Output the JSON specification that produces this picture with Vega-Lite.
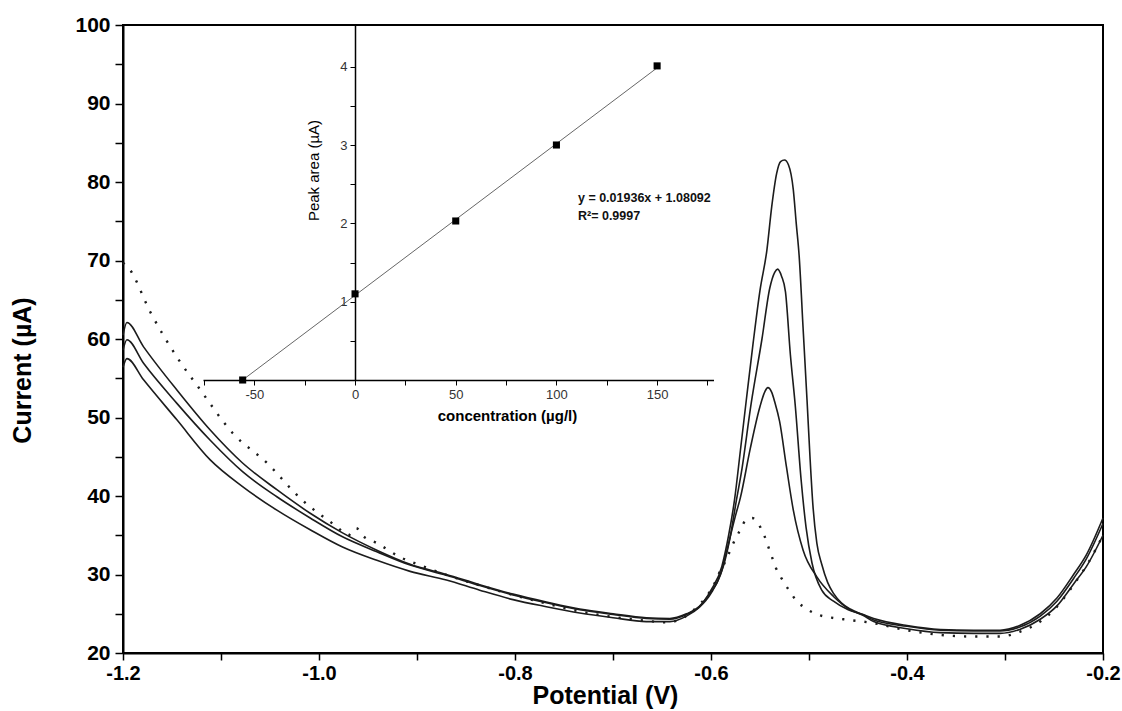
{
  "$schema": "https://vega.github.io/schema/vega-lite/v6.json",
  "width": 980,
  "height": 628,
  "autosize": {"type": "none"},
  "padding": {"left": 123, "top": 25, "right": 19, "bottom": 58},
  "background": "white",
  "config": {
    "font": "Liberation Sans",
    "view": {"stroke": "black", "strokeWidth": 2},
    "axis": {"grid": false, "domainColor": "black", "tickColor": "black", "labelColor": "black", "titleColor": "black", "labelFlush": false, "labelOverlap": false, "labelBound": false}
  },
  "datasets": {
    "curves": [
      {"series": "s1", "potential": -1.200, "current": 60.5},
      {"series": "s1", "potential": -1.196, "current": 62.1},
      {"series": "s1", "potential": -1.179, "current": 59.0},
      {"series": "s1", "potential": -1.145, "current": 53.5},
      {"series": "s1", "potential": -1.111, "current": 48.4},
      {"series": "s1", "potential": -1.078, "current": 44.2},
      {"series": "s1", "potential": -1.043, "current": 40.8},
      {"series": "s1", "potential": -1.009, "current": 37.8},
      {"series": "s1", "potential": -0.976, "current": 35.3},
      {"series": "s1", "potential": -0.941, "current": 33.1},
      {"series": "s1", "potential": -0.907, "current": 31.3},
      {"series": "s1", "potential": -0.870, "current": 30.0},
      {"series": "s1", "potential": -0.836, "current": 28.7},
      {"series": "s1", "potential": -0.802, "current": 27.5},
      {"series": "s1", "potential": -0.768, "current": 26.5},
      {"series": "s1", "potential": -0.734, "current": 25.6},
      {"series": "s1", "potential": -0.700, "current": 25.0},
      {"series": "s1", "potential": -0.666, "current": 24.5},
      {"series": "s1", "potential": -0.642, "current": 24.4},
      {"series": "s1", "potential": -0.625, "current": 25.0},
      {"series": "s1", "potential": -0.612, "current": 25.9},
      {"series": "s1", "potential": -0.600, "current": 28.0},
      {"series": "s1", "potential": -0.589, "current": 31.0},
      {"series": "s1", "potential": -0.582, "current": 35.0},
      {"series": "s1", "potential": -0.576, "current": 39.5},
      {"series": "s1", "potential": -0.570, "current": 45.8},
      {"series": "s1", "potential": -0.564, "current": 52.2},
      {"series": "s1", "potential": -0.557, "current": 59.5},
      {"series": "s1", "potential": -0.550, "current": 66.2},
      {"series": "s1", "potential": -0.543, "current": 71.3},
      {"series": "s1", "potential": -0.538, "current": 76.9},
      {"series": "s1", "potential": -0.533, "current": 81.1},
      {"series": "s1", "potential": -0.529, "current": 82.6},
      {"series": "s1", "potential": -0.525, "current": 82.8},
      {"series": "s1", "potential": -0.521, "current": 82.2},
      {"series": "s1", "potential": -0.516, "current": 79.0},
      {"series": "s1", "potential": -0.513, "current": 74.7},
      {"series": "s1", "potential": -0.510, "current": 70.5},
      {"series": "s1", "potential": -0.506, "current": 61.3},
      {"series": "s1", "potential": -0.502, "current": 52.2},
      {"series": "s1", "potential": -0.499, "current": 45.0},
      {"series": "s1", "potential": -0.496, "current": 38.8},
      {"series": "s1", "potential": -0.492, "current": 34.0},
      {"series": "s1", "potential": -0.487, "current": 31.3},
      {"series": "s1", "potential": -0.481, "current": 29.0},
      {"series": "s1", "potential": -0.475, "current": 27.6},
      {"series": "s1", "potential": -0.467, "current": 26.4},
      {"series": "s1", "potential": -0.458, "current": 25.6},
      {"series": "s1", "potential": -0.445, "current": 24.9},
      {"series": "s1", "potential": -0.434, "current": 24.4},
      {"series": "s1", "potential": -0.400, "current": 23.5},
      {"series": "s1", "potential": -0.366, "current": 23.0},
      {"series": "s1", "potential": -0.332, "current": 22.9},
      {"series": "s1", "potential": -0.305, "current": 22.9},
      {"series": "s1", "potential": -0.285, "current": 23.5},
      {"series": "s1", "potential": -0.264, "current": 25.0},
      {"series": "s1", "potential": -0.247, "current": 27.0},
      {"series": "s1", "potential": -0.230, "current": 30.0},
      {"series": "s1", "potential": -0.217, "current": 32.5},
      {"series": "s1", "potential": -0.200, "current": 37.2},

      {"series": "s2", "potential": -1.200, "current": 58.6},
      {"series": "s2", "potential": -1.196, "current": 59.9},
      {"series": "s2", "potential": -1.179, "current": 56.9},
      {"series": "s2", "potential": -1.145, "current": 51.8},
      {"series": "s2", "potential": -1.111, "current": 47.1},
      {"series": "s2", "potential": -1.078, "current": 43.1},
      {"series": "s2", "potential": -1.043, "current": 39.9},
      {"series": "s2", "potential": -1.009, "current": 37.2},
      {"series": "s2", "potential": -0.976, "current": 34.8},
      {"series": "s2", "potential": -0.941, "current": 32.9},
      {"series": "s2", "potential": -0.907, "current": 31.2},
      {"series": "s2", "potential": -0.870, "current": 29.9},
      {"series": "s2", "potential": -0.836, "current": 28.6},
      {"series": "s2", "potential": -0.802, "current": 27.4},
      {"series": "s2", "potential": -0.768, "current": 26.4},
      {"series": "s2", "potential": -0.734, "current": 25.5},
      {"series": "s2", "potential": -0.700, "current": 24.9},
      {"series": "s2", "potential": -0.666, "current": 24.4},
      {"series": "s2", "potential": -0.642, "current": 24.3},
      {"series": "s2", "potential": -0.625, "current": 24.9},
      {"series": "s2", "potential": -0.612, "current": 25.9},
      {"series": "s2", "potential": -0.600, "current": 27.8},
      {"series": "s2", "potential": -0.594, "current": 28.9},
      {"series": "s2", "potential": -0.587, "current": 31.2},
      {"series": "s2", "potential": -0.581, "current": 34.4},
      {"series": "s2", "potential": -0.574, "current": 39.5},
      {"series": "s2", "potential": -0.569, "current": 43.0},
      {"series": "s2", "potential": -0.559, "current": 51.8},
      {"series": "s2", "potential": -0.548, "current": 60.0},
      {"series": "s2", "potential": -0.540, "current": 66.5},
      {"series": "s2", "potential": -0.535, "current": 68.5},
      {"series": "s2", "potential": -0.532, "current": 68.9},
      {"series": "s2", "potential": -0.528, "current": 68.0},
      {"series": "s2", "potential": -0.524, "current": 66.0},
      {"series": "s2", "potential": -0.519, "current": 58.0},
      {"series": "s2", "potential": -0.514, "current": 51.5},
      {"series": "s2", "potential": -0.508, "current": 42.0},
      {"series": "s2", "potential": -0.503, "current": 36.0},
      {"series": "s2", "potential": -0.497, "current": 31.5},
      {"series": "s2", "potential": -0.487, "current": 28.0},
      {"series": "s2", "potential": -0.475, "current": 26.6},
      {"series": "s2", "potential": -0.460, "current": 25.5},
      {"series": "s2", "potential": -0.445, "current": 24.9},
      {"series": "s2", "potential": -0.434, "current": 24.2},
      {"series": "s2", "potential": -0.400, "current": 23.4},
      {"series": "s2", "potential": -0.366, "current": 22.9},
      {"series": "s2", "potential": -0.332, "current": 22.8},
      {"series": "s2", "potential": -0.305, "current": 22.8},
      {"series": "s2", "potential": -0.285, "current": 23.3},
      {"series": "s2", "potential": -0.264, "current": 24.7},
      {"series": "s2", "potential": -0.247, "current": 26.6},
      {"series": "s2", "potential": -0.230, "current": 29.5},
      {"series": "s2", "potential": -0.217, "current": 32.0},
      {"series": "s2", "potential": -0.200, "current": 36.5},

      {"series": "s3", "potential": -1.200, "current": 56.4},
      {"series": "s3", "potential": -1.196, "current": 57.5},
      {"series": "s3", "potential": -1.179, "current": 54.8},
      {"series": "s3", "potential": -1.145, "current": 49.7},
      {"series": "s3", "potential": -1.111, "current": 44.6},
      {"series": "s3", "potential": -1.078, "current": 41.2},
      {"series": "s3", "potential": -1.043, "current": 38.2},
      {"series": "s3", "potential": -1.009, "current": 35.7},
      {"series": "s3", "potential": -0.976, "current": 33.5},
      {"series": "s3", "potential": -0.941, "current": 31.8},
      {"series": "s3", "potential": -0.907, "current": 30.4},
      {"series": "s3", "potential": -0.870, "current": 29.3},
      {"series": "s3", "potential": -0.836, "current": 28.0},
      {"series": "s3", "potential": -0.802, "current": 26.8},
      {"series": "s3", "potential": -0.768, "current": 25.9},
      {"series": "s3", "potential": -0.734, "current": 25.1},
      {"series": "s3", "potential": -0.700, "current": 24.5},
      {"series": "s3", "potential": -0.666, "current": 24.0},
      {"series": "s3", "potential": -0.642, "current": 24.0},
      {"series": "s3", "potential": -0.625, "current": 24.7},
      {"series": "s3", "potential": -0.612, "current": 25.8},
      {"series": "s3", "potential": -0.600, "current": 27.6},
      {"series": "s3", "potential": -0.589, "current": 30.5},
      {"series": "s3", "potential": -0.582, "current": 34.0},
      {"series": "s3", "potential": -0.575, "current": 37.5},
      {"series": "s3", "potential": -0.570, "current": 39.8},
      {"series": "s3", "potential": -0.560, "current": 46.0},
      {"series": "s3", "potential": -0.550, "current": 51.4},
      {"series": "s3", "potential": -0.545, "current": 53.3},
      {"series": "s3", "potential": -0.542, "current": 53.8},
      {"series": "s3", "potential": -0.538, "current": 53.2},
      {"series": "s3", "potential": -0.535, "current": 52.0},
      {"series": "s3", "potential": -0.530, "current": 49.5},
      {"series": "s3", "potential": -0.523, "current": 43.7},
      {"series": "s3", "potential": -0.516, "current": 38.2},
      {"series": "s3", "potential": -0.506, "current": 33.1},
      {"series": "s3", "potential": -0.492, "current": 29.7},
      {"series": "s3", "potential": -0.475, "current": 27.2},
      {"series": "s3", "potential": -0.458, "current": 25.5},
      {"series": "s3", "potential": -0.445, "current": 24.8},
      {"series": "s3", "potential": -0.434, "current": 24.0},
      {"series": "s3", "potential": -0.400, "current": 23.1},
      {"series": "s3", "potential": -0.366, "current": 22.6},
      {"series": "s3", "potential": -0.332, "current": 22.5},
      {"series": "s3", "potential": -0.305, "current": 22.5},
      {"series": "s3", "potential": -0.285, "current": 23.0},
      {"series": "s3", "potential": -0.264, "current": 24.3},
      {"series": "s3", "potential": -0.247, "current": 26.0},
      {"series": "s3", "potential": -0.230, "current": 28.8},
      {"series": "s3", "potential": -0.217, "current": 31.0},
      {"series": "s3", "potential": -0.200, "current": 35.0},

      {"series": "blank", "potential": -1.200, "current": 69.7},
      {"series": "blank", "potential": -1.194, "current": 69.0},
      {"series": "blank", "potential": -1.172, "current": 63.4},
      {"series": "blank", "potential": -1.145, "current": 57.7},
      {"series": "blank", "potential": -1.121, "current": 53.5},
      {"series": "blank", "potential": -1.088, "current": 48.0},
      {"series": "blank", "potential": -1.053, "current": 44.2},
      {"series": "blank", "potential": -1.019, "current": 39.7},
      {"series": "blank", "potential": -0.982, "current": 36.1},
      {"series": "blank", "potential": -0.970, "current": 35.0},
      {"series": "blank", "potential": -0.962, "current": 35.9},
      {"series": "blank", "potential": -0.955, "current": 34.9},
      {"series": "blank", "potential": -0.941, "current": 34.0},
      {"series": "blank", "potential": -0.917, "current": 32.2},
      {"series": "blank", "potential": -0.895, "current": 31.1},
      {"series": "blank", "potential": -0.859, "current": 29.5},
      {"series": "blank", "potential": -0.830, "current": 28.4},
      {"series": "blank", "potential": -0.802, "current": 27.4},
      {"series": "blank", "potential": -0.768, "current": 26.3},
      {"series": "blank", "potential": -0.734, "current": 25.3},
      {"series": "blank", "potential": -0.700, "current": 24.6},
      {"series": "blank", "potential": -0.666, "current": 24.1},
      {"series": "blank", "potential": -0.645, "current": 23.9},
      {"series": "blank", "potential": -0.628, "current": 24.5},
      {"series": "blank", "potential": -0.614, "current": 25.9},
      {"series": "blank", "potential": -0.604, "current": 27.3},
      {"series": "blank", "potential": -0.597, "current": 28.7},
      {"series": "blank", "potential": -0.592, "current": 30.1},
      {"series": "blank", "potential": -0.586, "current": 31.5},
      {"series": "blank", "potential": -0.581, "current": 32.9},
      {"series": "blank", "potential": -0.576, "current": 34.3},
      {"series": "blank", "potential": -0.570, "current": 35.7},
      {"series": "blank", "potential": -0.564, "current": 37.0},
      {"series": "blank", "potential": -0.558, "current": 37.2},
      {"series": "blank", "potential": -0.552, "current": 36.5},
      {"series": "blank", "potential": -0.546, "current": 35.1},
      {"series": "blank", "potential": -0.542, "current": 33.7},
      {"series": "blank", "potential": -0.538, "current": 32.3},
      {"series": "blank", "potential": -0.534, "current": 30.9},
      {"series": "blank", "potential": -0.528, "current": 29.5},
      {"series": "blank", "potential": -0.521, "current": 28.1},
      {"series": "blank", "potential": -0.513, "current": 26.7},
      {"series": "blank", "potential": -0.501, "current": 25.5},
      {"series": "blank", "potential": -0.489, "current": 24.8},
      {"series": "blank", "potential": -0.477, "current": 24.5},
      {"series": "blank", "potential": -0.465, "current": 24.3},
      {"series": "blank", "potential": -0.434, "current": 23.8},
      {"series": "blank", "potential": -0.400, "current": 22.9},
      {"series": "blank", "potential": -0.366, "current": 22.3},
      {"series": "blank", "potential": -0.332, "current": 22.1},
      {"series": "blank", "potential": -0.305, "current": 22.1},
      {"series": "blank", "potential": -0.285, "current": 22.7},
      {"series": "blank", "potential": -0.264, "current": 24.0},
      {"series": "blank", "potential": -0.247, "current": 25.9},
      {"series": "blank", "potential": -0.230, "current": 28.7},
      {"series": "blank", "potential": -0.215, "current": 31.5},
      {"series": "blank", "potential": -0.200, "current": 35.0}
    ],
    "calib": [
      {"conc": -55.8, "area": 0.0},
      {"conc": 0, "area": 1.1},
      {"conc": 50, "area": 2.03},
      {"conc": 100, "area": 3.0},
      {"conc": 150, "area": 4.01}
    ],
    "fit": [
      {"conc": -55.83, "area": 0.0},
      {"conc": 150, "area": 3.985}
    ]
  },
  "layer": [
    {
      "data": {"name": "curves"},
      "encoding": {
        "x": {
          "field": "potential", "type": "quantitative",
          "scale": {"domain": [-1.2, -0.2], "nice": false, "zero": false},
          "axis": {
            "orient": "bottom",
            "values": [-1.2, -1.1, -1.0, -0.9, -0.8, -0.7, -0.6, -0.5, -0.4, -0.3, -0.2],
            "labelExpr": "round(datum.value*10) % 2 == 0 ? '-' + format(abs(datum.value), '.1f') : ''",
            "title": "Potential (V)",
            "titleFontSize": 25, "titleFontWeight": "bold",
            "titleX": 482, "titleY": 30, "titleBaseline": "top", "titleAlign": "center",
            "labelFontSize": 20, "labelFontWeight": "bold", "labelPadding": 3,
            "tickSize": 7, "tickWidth": 1.5, "domainWidth": 2
          }
        },
        "y": {
          "field": "current", "type": "quantitative",
          "scale": {"domain": [20, 100], "nice": false, "zero": false},
          "axis": {
            "orient": "left",
            "values": [20, 25, 30, 35, 40, 45, 50, 55, 60, 65, 70, 75, 80, 85, 90, 95, 100],
            "labelExpr": "datum.value % 10 == 0 ? datum.label : ''",
            "title": "Current (µA)",
            "titleFontSize": 25, "titleFontWeight": "bold",
            "titleX": -101, "titleY": 345, "titleAngle": -90, "titleBaseline": "middle", "titleAlign": "center",
            "labelFontSize": 21, "labelFontWeight": "bold", "labelPadding": 5,
            "tickSize": 8, "tickWidth": 1.5, "domainWidth": 2
          }
        }
      },
      "layer": [
        {
          "transform": [{"filter": "datum.series != 'blank'"}],
          "mark": {"type": "line", "interpolate": "monotone", "color": "#1c1c1c", "strokeWidth": 1.6},
          "encoding": {"detail": {"field": "series", "type": "nominal"}}
        },
        {
          "transform": [{"filter": "datum.series == 'blank'"}],
          "mark": {"type": "line", "interpolate": "monotone", "color": "#1c1c1c", "strokeWidth": 2.4, "strokeDash": [2.2, 9]},
          "encoding": {}
        }
      ]
    },
    {
      "layer": [
        {
          "data": {"name": "fit"},
          "mark": {"type": "line", "color": "#555555", "strokeWidth": 0.9},
          "encoding": {
            "x": {
              "field": "conc", "type": "quantitative",
              "scale": {"domain": [-75.5, 178], "range": [80, 590.5], "nice": false, "zero": false},
              "axis": {
                "orient": "bottom", "offset": -273,
                "values": [-75, -50, -25, 0, 25, 50, 75, 100, 125, 150, 175],
                "labelExpr": "datum.value % 50 == 0 ? (datum.value < 0 ? '-' + abs(datum.value) : '' + datum.value) : ''",
                "title": "concentration (µg/l)",
                "titleFontSize": 15, "titleFontWeight": "bold",
                "titleX": 384, "titleY": 35, "titleBaseline": "middle", "titleAlign": "center",
                "labelFontSize": 13, "labelFontWeight": "normal", "labelColor": "#333333", "labelPadding": 3,
                "tickSize": 5, "tickWidth": 1, "domainWidth": 1.5
              }
            },
            "y": {
              "field": "area", "type": "quantitative",
              "scale": {"domain": [0, 4.532], "range": [355, 0], "nice": false, "zero": false},
              "axis": {
                "orient": "left", "offset": -232,
                "values": [0.5, 1, 1.5, 2, 2.5, 3, 3.5, 4],
                "labelExpr": "datum.value % 1 == 0 ? '' + datum.value : ''",
                "title": "Peak area (µA)",
                "titleFontSize": 15, "titleFontWeight": "normal",
                "titleX": -42, "titleY": 145, "titleAngle": -90, "titleBaseline": "middle", "titleAlign": "center",
                "labelFontSize": 13, "labelFontWeight": "normal", "labelColor": "#333333", "labelPadding": 3,
                "tickSize": 5, "tickWidth": 1, "domainWidth": 1.5
              }
            }
          }
        },
        {
          "data": {"name": "calib"},
          "mark": {"type": "square", "size": 50, "color": "black", "opacity": 1},
          "encoding": {
            "x": {"field": "conc", "type": "quantitative"},
            "y": {"field": "area", "type": "quantitative"}
          }
        },
        {
          "data": {"values": [{}]},
          "mark": {"type": "text", "align": "left", "baseline": "middle", "fontSize": 12.5, "fontWeight": "bold", "color": "#111111"},
          "encoding": {
            "x": {"datum": 110.7, "type": "quantitative"},
            "y": {"datum": 2.32, "type": "quantitative"},
            "text": {"value": "y = 0.01936x + 1.08092"}
          }
        },
        {
          "data": {"values": [{}]},
          "mark": {"type": "text", "align": "left", "baseline": "middle", "fontSize": 12.5, "fontWeight": "bold", "color": "#111111"},
          "encoding": {
            "x": {"datum": 110.7, "type": "quantitative"},
            "y": {"datum": 2.09, "type": "quantitative"},
            "text": {"value": "R²= 0.9997"}
          }
        }
      ]
    }
  ],
  "resolve": {
    "scale": {"x": "independent", "y": "independent"},
    "axis": {"x": "independent", "y": "independent"}
  }
}
